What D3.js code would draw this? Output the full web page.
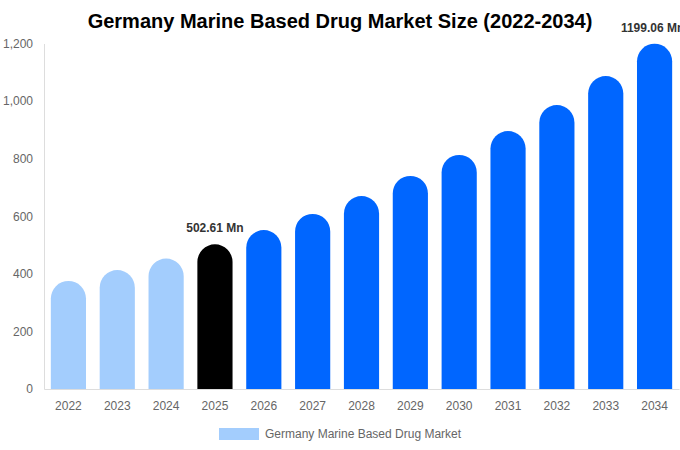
<!DOCTYPE html>
<html>
<head>
<meta charset="utf-8">
<script src="https://cdn.jsdelivr.net/npm/d3@7"></script>
<style>
body { margin: 0; background: #fff; }
text { font-family: "Liberation Sans", Arial, sans-serif; }
</style>
</head>
<body>
<div id="chart"></div>
<script>
var years = ["2022","2023","2024","2025","2026","2027","2028","2029","2030","2031","2032","2033","2034"];
var values = [375, 413, 453, 502.61, 552, 608, 670, 740, 813, 896, 986, 1087, 1199.06];
var yTicks = [0, 200, 400, 600, 800, 1000, 1200];
var labels = {"2025": "502.61 Mn", "2034": "1199.06 Mn"};

var W = 680, H = 450;
var m = {left: 44, right: 1, top: 43.5, bottom: 61};

var svg = d3.select("#chart").append("svg")
	.attr("width", W)
	.attr("height", H);

var x = d3.scaleBand()
	.domain(years)
	.range([m.left, W - m.right])
	.paddingInner(0.28)
	.paddingOuter(0.14);

var y = d3.scaleLinear()
	.domain([0, 1200])
	.range([H - m.bottom, m.top]);

function color(d, i) {
	if (i < 3) return "#a3cdfd";
	if (i == 3) return "#000000";
	return "#0066ff";
}

// title
svg.append("text")
	.attr("x", W / 2)
	.attr("y", 28)
	.attr("text-anchor", "middle")
	.style("font-size", "20px")
	.style("font-weight", "bold")
	.style("fill", "#000")
	.text("Germany Marine Based Drug Market Size (2022-2034)");

// y axis
var yAxis = svg.append("g")
	.attr("transform", "translate(" + m.left + ",0)")
	.call(d3.axisLeft(y).tickValues(yTicks).tickSize(0).tickPadding(11).tickFormat(d3.format(",")));
yAxis.select(".domain").attr("stroke", "#ddd");
yAxis.selectAll("text").style("font-size", "12px").style("fill", "#666");

// x axis
var xAxis = svg.append("g")
	.attr("transform", "translate(0," + y(0) + ")")
	.call(d3.axisBottom(x).tickSize(0).tickPadding(12));
xAxis.select(".domain").attr("stroke", "#ddd");
xAxis.selectAll("text").style("font-size", "12px").style("fill", "#666");

// bars with rounded tops
function barPath(d, i) {
	var x0 = x(years[i]), w = x.bandwidth(), r = w / 2;
	var yt = y(d), yb = y(0);
	return "M" + x0 + "," + yb +
		"L" + x0 + "," + (yt + r) +
		"A" + r + "," + r + " 0 0 1 " + (x0 + w) + "," + (yt + r) +
		"L" + (x0 + w) + "," + yb + "Z";
}

svg.selectAll(".bar")
	.data(values)
	.enter().append("path")
	.attr("class", "bar")
	.attr("d", barPath)
	.style("fill", color);

// value labels (the last one runs past the right edge, as in the source)
svg.selectAll(".lbl")
	.data(years.filter(function(d) { return labels[d]; }))
	.enter().append("text")
	.attr("class", "lbl")
	.attr("x", function(d) { return x(d) + x.bandwidth() / 2 - (d == "2034" ? 2 : 0); })
	.attr("y", function(d) { return y(values[years.indexOf(d)]) - 12; })
	.attr("text-anchor", "middle")
	.style("font-size", "12px")
	.style("font-weight", "bold")
	.style("fill", "#333")
	.text(function(d) { return labels[d]; });

// legend
svg.append("rect")
	.attr("x", 219)
	.attr("y", 428)
	.attr("width", 40)
	.attr("height", 12)
	.style("fill", "#a3cdfd");
svg.append("text")
	.attr("x", 265)
	.attr("y", 438)
	.style("font-size", "12px")
	.style("fill", "#666")
	.text("Germany Marine Based Drug Market");
</script>
</body>
</html>
